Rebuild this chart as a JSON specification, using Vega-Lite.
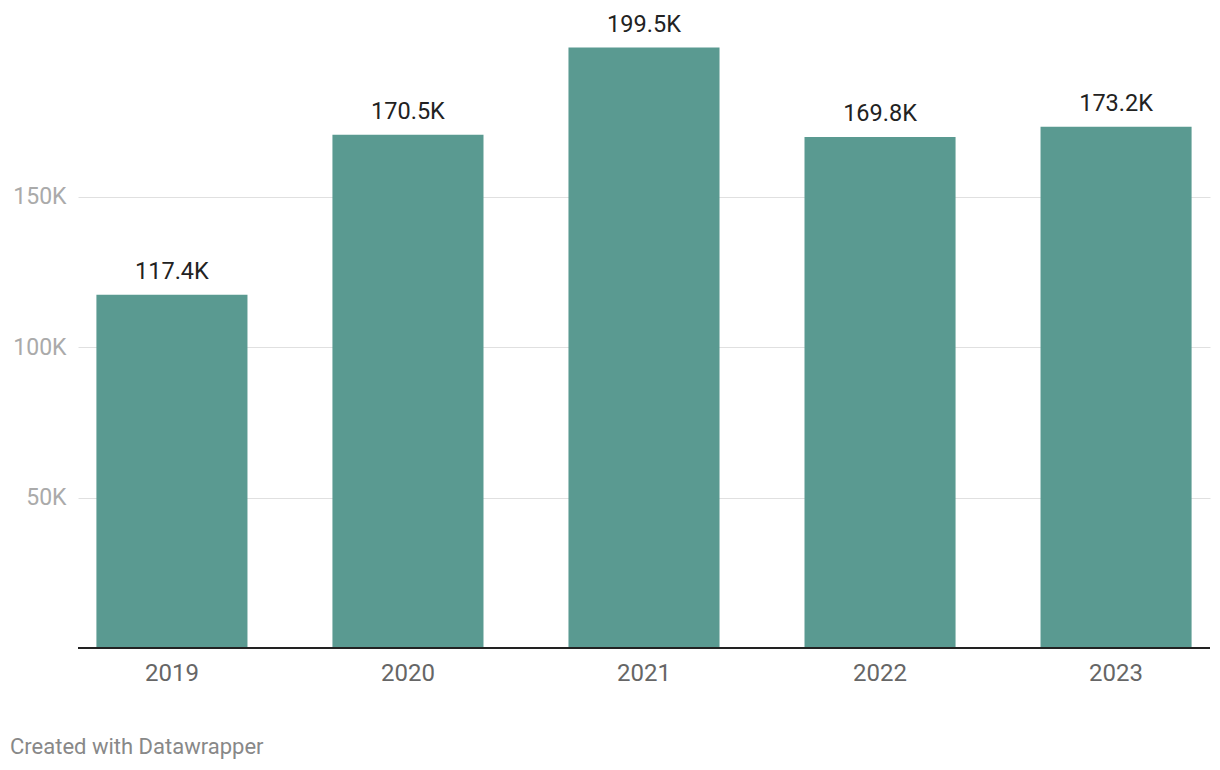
{
  "$schema": "https://vega.github.io/schema/vega-lite/v6.json",
  "width": 1132,
  "height": 602,
  "autosize": {"type": "none"},
  "padding": {"left": 78, "top": 46, "right": 10, "bottom": 122},
  "background": "white",
  "config": {
    "view": {"stroke": null},
    "font": "Roboto"
  },
  "title": {
    "text": "Created with Datawrapper",
    "orient": "bottom",
    "anchor": "start",
    "frame": "group",
    "dx": -68,
    "offset": 52,
    "font": "Roboto",
    "fontSize": 22,
    "fontWeight": "normal",
    "color": "#888888"
  },
  "data": {
    "values": [
      {"year": "2019", "value": 117400, "label": "117.4K"},
      {"year": "2020", "value": 170500, "label": "170.5K"},
      {"year": "2021", "value": 199500, "label": "199.5K"},
      {"year": "2022", "value": 169800, "label": "169.8K"},
      {"year": "2023", "value": 173200, "label": "173.2K"}
    ]
  },
  "encoding": {
    "x": {
      "field": "year",
      "type": "nominal",
      "sort": null,
      "scale": {"paddingInner": 0.36, "paddingOuter": 0.078},
      "axis": {
        "title": null,
        "labelAngle": 0,
        "labelFont": "Roboto",
        "labelFontSize": 24,
        "labelColor": "#666666",
        "labelPadding": 13,
        "ticks": false,
        "domain": false,
        "grid": false
      }
    },
    "y": {
      "field": "value",
      "type": "quantitative",
      "scale": {"domain": [0, 200000], "nice": false},
      "axis": {
        "title": null,
        "values": [50000, 100000, 150000],
        "format": "~s",
        "labelExpr": "replace(datum.label, 'k', 'K')",
        "labelFont": "Roboto",
        "labelFontSize": 23,
        "labelColor": "#aaaaaa",
        "labelPadding": 12,
        "ticks": false,
        "domain": false,
        "grid": true,
        "gridColor": "#e0e0e0",
        "gridWidth": 1
      }
    }
  },
  "layer": [
    {
      "mark": {"type": "bar", "color": "#5a9a91"}
    },
    {
      "mark": {
        "type": "text",
        "baseline": "bottom",
        "dy": -11,
        "font": "Roboto",
        "fontSize": 23.5,
        "color": "#222222"
      },
      "encoding": {"text": {"field": "label"}}
    },
    {
      "mark": {"type": "rule", "color": "#222222", "strokeWidth": 2},
      "encoding": {
        "y": {"datum": 0},
        "x": null
      }
    }
  ]
}
